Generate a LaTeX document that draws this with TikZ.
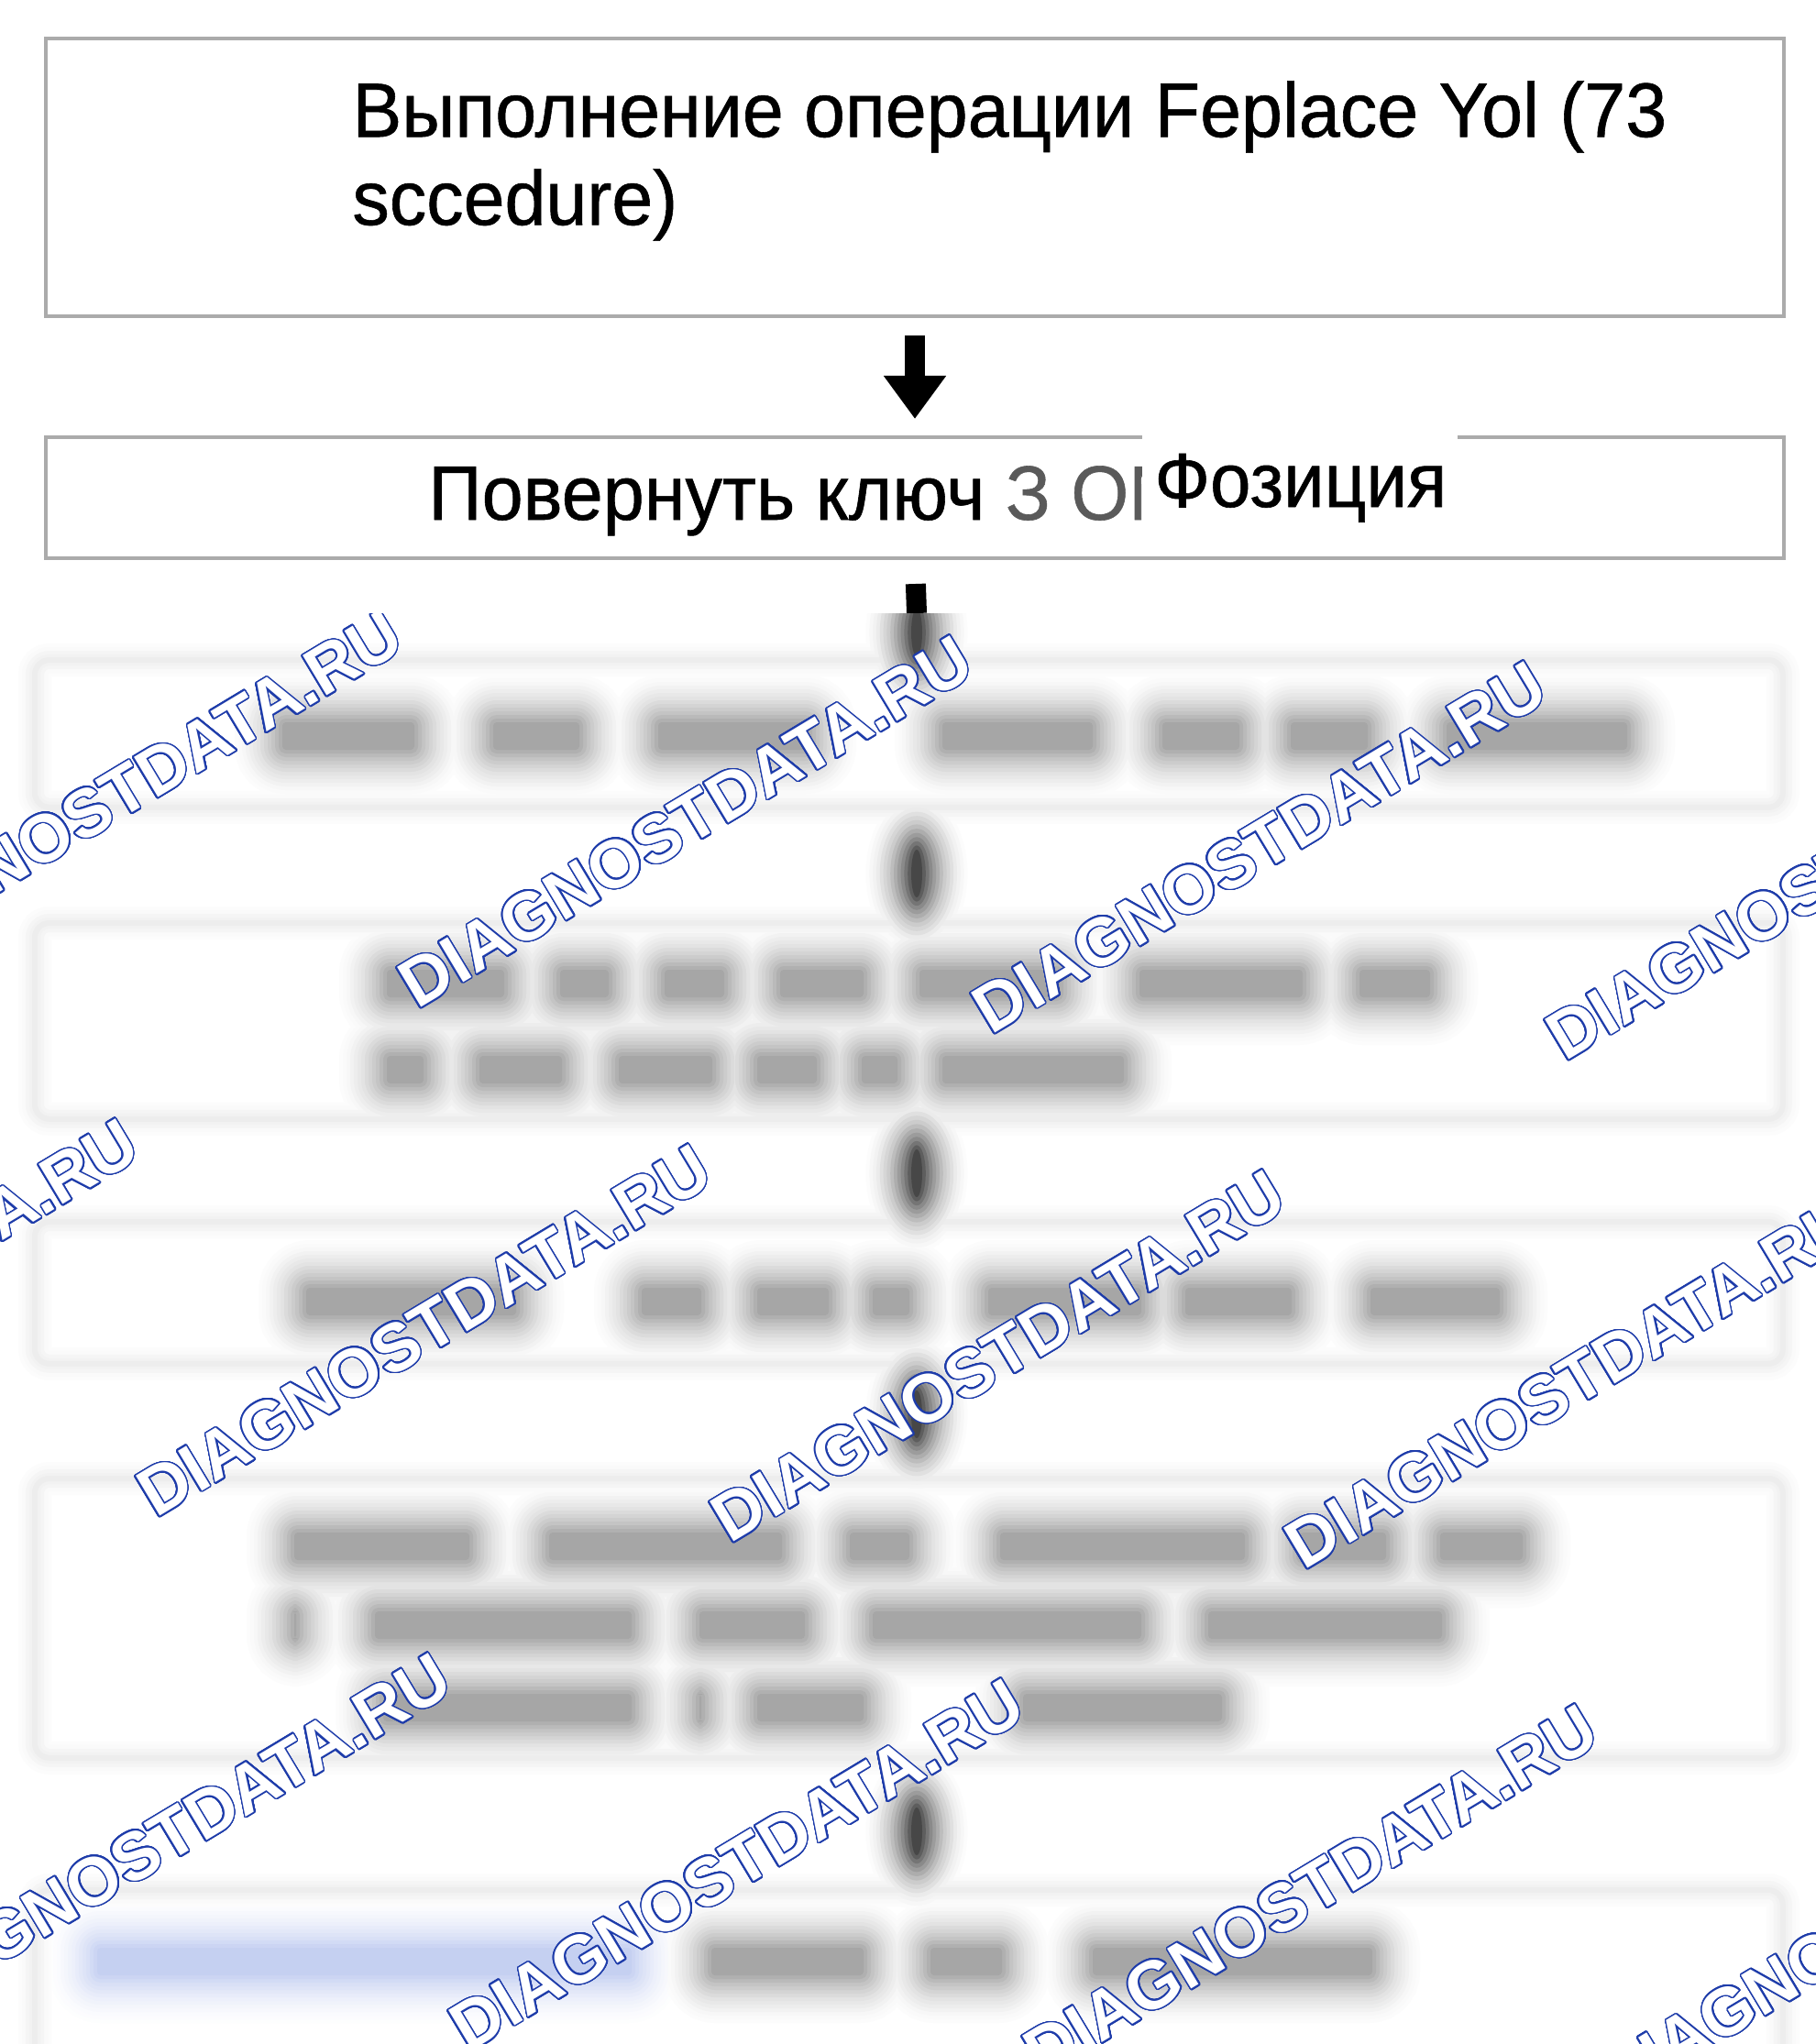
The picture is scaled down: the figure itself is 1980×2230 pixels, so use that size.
\documentclass[tikz,border=0pt]{standalone}
\usepackage{fontspec}
\setmainfont{Liberation Sans}
\newfontfamily\crispfont{Liberation Sans}[FakeBold=0.7]
\newfontfamily\wmfont{Liberation Sans}
\usepackage[copies]{contour}
\contourlength{0.8pt}
\contournumber{32}
\usetikzlibrary{arrows.meta}
\definecolor{boxgray}{HTML}{ABABAB}
\definecolor{zongray}{HTML}{5A5A5A}
\definecolor{wmblue}{HTML}{1E3CAA}
\definecolor{linkblue}{HTML}{5A78D8}
% blurred line of words: [colour]{y centre}{x1/x2,...}
\newcommand{\wline}[3][black]{%
  \foreach \k in {13,...,0}{%
    \pgfmathtruncatemacro\p{round(35*(1-\k/16)^2)}%
    \foreach \a/\b in {#3}{%
      \fill[#1!\p, rounded corners={2pt+\k*2pt}] ({\a+18-\k*4},{#2-15-\k*4}) rectangle ({\b-18+\k*4},{#2+15+\k*4});
    }}}
% blurred arrow
\newcommand{\ablob}[1]{%
  \foreach \k in {13,...,0}{%
    \pgfmathtruncatemacro\p{round(72*(1-\k/15)^2)}%
    \fill[black!\p] (1000,#1) ellipse [x radius={3pt+\k*1.9pt}, y radius={13pt+\k*2.3pt}];
  }}
% blurred frame
\newcommand{\softframe}[1]{%
  \foreach \w/\p in {18pt/1,14pt/2,10pt/4,6pt/5,3pt/7}{%
    \draw[black!\p, line width=\w, rounded corners=8pt] (#1.north west) rectangle (#1.south east);
  }}
\tikzset{
  crispbox/.style={draw=boxgray, line width=2pt, inner sep=0pt, minimum width=948pt, anchor=north west},
  ghost/.style={inner sep=0pt, minimum width=953pt, anchor=north west},
  txt/.style={font=\crispfont\fontsize{42pt}{48pt}\selectfont, inner sep=0pt, text=black},
  arr/.style={line width=11pt, -{Triangle[width=32.5pt,length=23.5pt]}},
  shaft/.style={line width=11pt},
  wm/.style={font=\wmfont\bfseries\fontsize{37pt}{37pt}\selectfont, text=white, inner sep=0pt, anchor=base west, rotate=31}
}
\begin{document}
\begin{tikzpicture}[x=0.5pt,y=-0.5pt]
\useasboundingbox (0,0) rectangle (1980,2230);
\fill[white] (0,0) rectangle (1980,2230);

% crisp part
\node[crispbox, minimum height=151.5pt] (b1) at (48,40) {};
\node[txt, anchor=north west, align=left] (t1) at (384,88)
  {\scalebox{0.962}[1]{Выполнение операции Feplace Yol (73}\\\scalebox{0.962}[1]{sccedure)}};
\node[crispbox, minimum height=66pt] (b2) at (48,475) {};
\node[txt, anchor=base west] (t2) at (467,567) {\scalebox{0.964}[1]{Повернуть ключ \textcolor{zongray}{З ОN}}};
\node[fill=white, inner sep=0pt, minimum width=172pt, minimum height=64pt, anchor=north west] (patch) at (1246,462) {};
\node[txt, anchor=base west] (fz) at (1259,553) {\scalebox{0.95}[1]{Фозиция}};
\draw[arr, shorten <=9.5pt, shorten >=9pt] (b1.south) -- (b2.north);
\coordinate (cut) at (1000,669);
\draw[shaft, shorten <=13pt] (b2.south) -- (cut);

% blurred part
\begin{scope}
\clip (0,669) rectangle (1980,2230);
\node[ghost, minimum height=80pt] (b3) at (38,720) {};
\node[ghost, minimum height=106.5pt] (b4) at (38,1007) {};
\node[ghost, minimum height=77pt] (b5) at (38,1333) {};
\node[ghost, minimum height=152pt] (b6) at (38,1613) {};
\node[ghost, minimum height=100pt] (b7) at (38,2062) {};
\begin{scope}[blend mode=darken]
\softframe{b3}\softframe{b4}\softframe{b5}\softframe{b6}\softframe{b7}
\ablob{690}\ablob{953}\ablob{1280}\ablob{1543}\ablob{1998}
% box 3
\wline{803}{290/470,520/650,700/900,1010/1210,1250/1370,1390/1510,1560/1793}
% box 4
\wline{1073}{404/568,593/682,707/808,833/960,985/1174,1225/1439,1465/1578}
\wline{1167}{404/480,505/631,657/795,808/909,922/997,1010/1244}
% box 5
\wline{1420}{316/581,682/783,808/922,934/1010,1060/1263,1275/1427,1477/1654}
% box 6
\wline{1687}{303/530,581/871,909/1010,1073/1376,1400/1530,1553/1679}
\wline{1773}{303/341,391/707,745/896,934/1263,1300/1591}
\wline{1863}{400/707,745/783,808/960,1098/1351}
% box 7
\wline[linkblue]{2140}{88/707}
\wline{2140}{758/960,997/1111,1174/1515}
\end{scope}

% watermarks
\node[wm] (w1) at (-167,1074) {\contour{wmblue}{DIAGNOSTDATA.RU}};
\node[wm] (w2) at (455,1102) {\contour{wmblue}{DIAGNOSTDATA.RU}};
\node[wm] (w3) at (1081,1130) {\contour{wmblue}{DIAGNOSTDATA.RU}};
\node[wm] (w4) at (1707,1159) {\contour{wmblue}{DIAGNOSTDATA.RU}};
\node[wm] (w5) at (-455,1629) {\contour{wmblue}{DIAGNOSTDATA.RU}};
\node[wm] (w6) at (170,1657) {\contour{wmblue}{DIAGNOSTDATA.RU}};
\node[wm] (w7) at (796,1685) {\contour{wmblue}{DIAGNOSTDATA.RU}};
\node[wm] (w8) at (1422,1714) {\contour{wmblue}{DIAGNOSTDATA.RU}};
\node[wm] (w9) at (-114,2212) {\contour{wmblue}{DIAGNOSTDATA.RU}};
\node[wm] (w10) at (511,2240) {\contour{wmblue}{DIAGNOSTDATA.RU}};
\node[wm] (w11) at (1137,2268) {\contour{wmblue}{DIAGNOSTDATA.RU}};
\node[wm] (w12) at (1763,2297) {\contour{wmblue}{DIAGNOSTDATA.RU}};
\end{scope}
\end{tikzpicture}
\end{document}
